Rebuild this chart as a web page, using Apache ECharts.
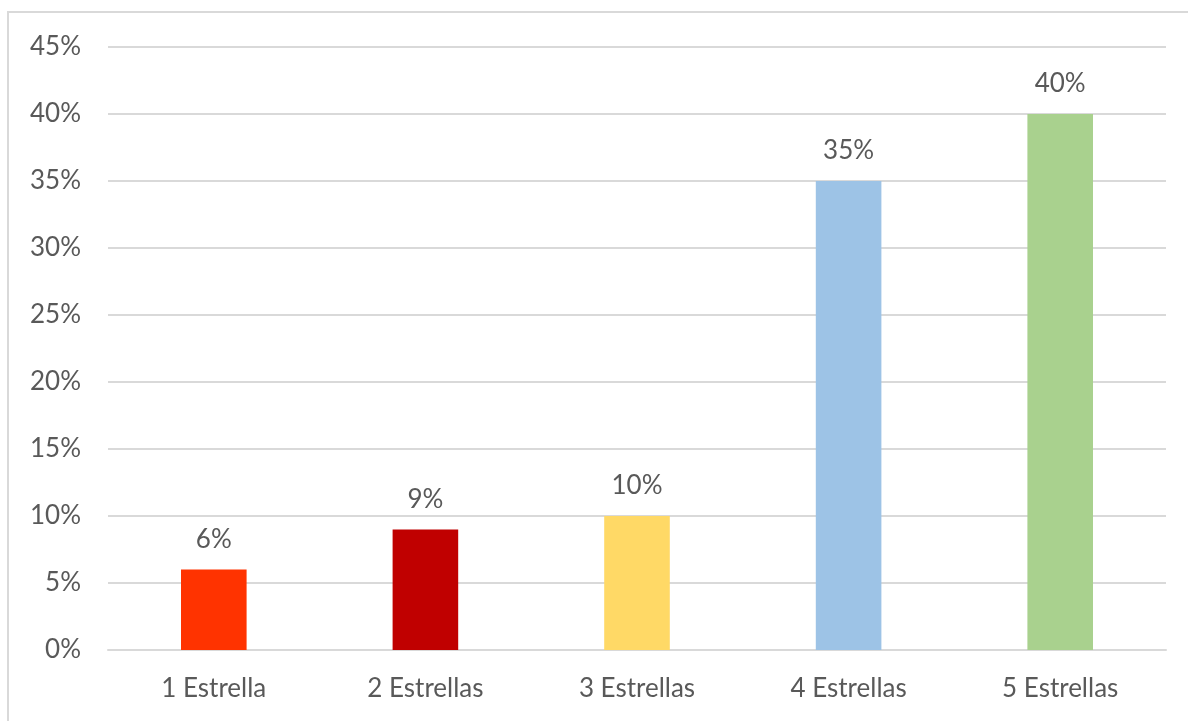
<!DOCTYPE html>
<html>
<head>
<meta charset="utf-8">
<script src="https://cdn.jsdelivr.net/npm/echarts@6/dist/echarts.min.js"></script>
<style>
  html, body { margin: 0; padding: 0; background: #fff; }
  #frame { position: absolute; left: 7px; top: 11px; width: 1200px; height: 740px; border: 2px solid #d9d9d9; box-sizing: border-box; }
  #chart { position: absolute; left: 0; top: 0; width: 1188px; height: 721px; }
</style>
</head>
<body>
<div id="frame"></div>
<div id="chart"></div>
<script>
// Star ratings and share of reviews (%)
const categories = ['1 Estrella', '2 Estrellas', '3 Estrellas', '4 Estrellas', '5 Estrellas'];
const shares = [6, 9, 10, 35, 40];
const barColors = ['#FF3300', '#C00000', '#FFD966', '#9DC3E6', '#A9D18E'];

const chart = echarts.init(document.getElementById('chart'), null, { renderer: 'canvas' });
const font = 'Lato, "Open Sans", sans-serif';

chart.setOption({
  animation: false,
  grid: { left: 108, right: 22, top: 47, bottom: 71, containLabel: false },
  xAxis: {
    type: 'category',
    data: categories,
    axisLine: { show: true, lineStyle: { color: '#d9d9d9', width: 2 } },
    axisTick: { show: false },
    axisLabel: { color: '#595959', fontSize: 26, fontFamily: font, margin: 26 }
  },
  yAxis: {
    type: 'value',
    min: 0, max: 45, interval: 5,
    axisLine: { show: false },
    axisTick: { show: false },
    splitLine: { lineStyle: { color: '#d9d9d9', width: 2 } },
    axisLabel: { color: '#595959', fontSize: 26, fontFamily: font, margin: 27, formatter: '{value}%' }
  },
  series: [{
    type: 'bar',
    data: shares.map((v, i) => ({ value: v, itemStyle: { color: barColors[i] } })),
    barWidth: '31%',
    label: {
      show: true, position: 'top', distance: 17,
      color: '#595959', fontSize: 26, fontFamily: font,
      formatter: '{c}%'
    }
  }]
});
</script>
</body>
</html>
